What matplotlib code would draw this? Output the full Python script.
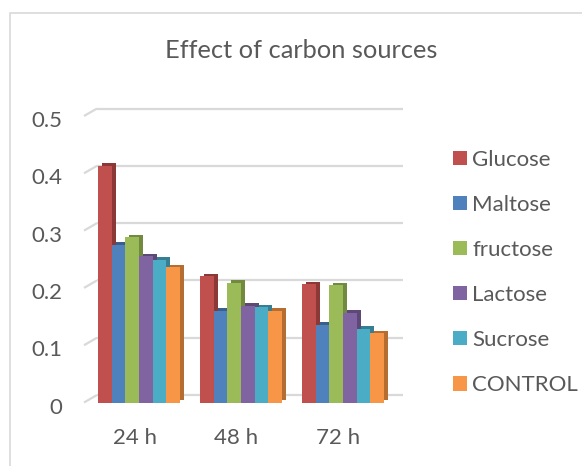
import matplotlib
matplotlib.use('Agg')
import matplotlib.pyplot as plt
import matplotlib.transforms as mtransforms
from matplotlib.patches import Rectangle, Patch
import numpy as np

# data
times = ['24 h', '48 h', '72 h']
sources = ['Glucose', 'Maltose', 'fructose', 'Lactose', 'Sucrose', 'CONTROL']
glucose = [0.413, 0.220, 0.206]
maltose = [0.275, 0.160, 0.136]
fructose = [0.288, 0.209, 0.205]
lactose = [0.255, 0.169, 0.157]
sucrose = [0.249, 0.166, 0.129]
control = [0.236, 0.160, 0.121]
yticks = [0, 0.1, 0.2, 0.3, 0.4, 0.5]

series = [glucose, maltose, fructose, lactose, sucrose, control]
colors = ['#C0504D', '#4F81BD', '#9BBB59', '#8064A2', '#4BACC6', '#F79646']
sides = ['#8C3836', '#3A5F8C', '#718A40', '#5D4877', '#367E92', '#B56D32']
txt = '#595959'
grid = '#D9D9D9'
font = 'Lato'

W, H = 582, 466
fig = plt.figure(figsize=(W / 100, H / 100), dpi=100)

# chart frame
fig.patches.append(Rectangle((10 / W, -0.1), 1.2, (H - 13) / H + 0.1,
                             transform=fig.transFigure, fill=False,
                             edgecolor=grid, lw=1.2))

ax_l, ax_r, ax_b = 84, 403, 402.5
ymax = 0.55
px_per = 573.0  # pixels per unit of value
ax = fig.add_axes([ax_l / W, (H - ax_b) / H, (ax_r - ax_l) / W, ymax * px_per / H])
ax.set_ylim(0, ymax)
bar_px = 13.6
left_units = (139 - ax_l) / bar_px
ax.set_xlim(-left_units, (ax_r - ax_l) / bar_px - left_units)

# back wall gridlines with a slanted left-wall part
dx_px, dy_px = 13, 7.5
dxa = dx_px / (ax_r - ax_l)
dyv = dy_px / px_per
blend = mtransforms.blended_transform_factory(ax.transAxes, ax.transData)
for v in yticks:
    ax.plot([0, dxa], [v, v + dyv], color=grid, lw=1.6, transform=blend,
            zorder=1, solid_capstyle='butt', clip_on=False)
    ax.plot([dxa, 1], [v + dyv, v + dyv], color=grid, lw=1.6, transform=blend,
            zorder=1, solid_capstyle='butt', clip_on=False)

# bars with a fake depth face
depth = mtransforms.offset_copy(ax.transData, fig=fig, x=4, y=2.5, units='dots')
pitch = 7.5
centers = np.arange(len(times)) * pitch
n = len(series)
for k, vals in enumerate(series):
    xs = centers + (k - (n - 1) / 2)
    ax.bar(xs, vals, width=1.0, color=sides[k], transform=depth,
           zorder=2 + 2 * k, linewidth=0)
    ax.bar(xs, vals, width=1.0, color=colors[k], zorder=3 + 2 * k,
           linewidth=0, label=sources[k])

for s in ax.spines.values():
    s.set_visible(False)
ax.set_yticks(yticks)
ax.set_yticklabels(['0', '0.1', '0.2', '0.3', '0.4', '0.5'])
ax.set_xticks(centers - 0.33)
ax.set_xticklabels(times)
ax.tick_params(axis='y', length=0, pad=15.5, labelsize=16, labelcolor=txt)
ax.tick_params(axis='x', length=0, pad=18, labelsize=16, labelcolor=txt)
down = mtransforms.ScaledTranslation(0, -3 / 100, fig.dpi_scale_trans)
for lab in ax.get_yticklabels():
    lab.set_fontfamily(font)
    lab.set_transform(lab.get_transform() + down)
for lab in ax.get_xticklabels():
    lab.set_fontfamily(font)
ax.patch.set_alpha(0)

handles = [Patch(facecolor=c, edgecolor='none') for c in colors]
fig.legend(handles, sources, loc='center left',
           bbox_to_anchor=(453 / W, 1 - 272.5 / H), frameon=False,
           handlelength=0.61, handleheight=0.61, handletextpad=0.25,
           labelspacing=1.13, borderpad=0, borderaxespad=0,
           prop={'family': font, 'size': 16}, labelcolor=txt)

fig.text(301 / W, 1 - 50 / H, 'Effect of carbon sources', ha='center',
         va='center', color=txt, fontsize=18.3, family=font)

fig.savefig('out.png', dpi=100)
